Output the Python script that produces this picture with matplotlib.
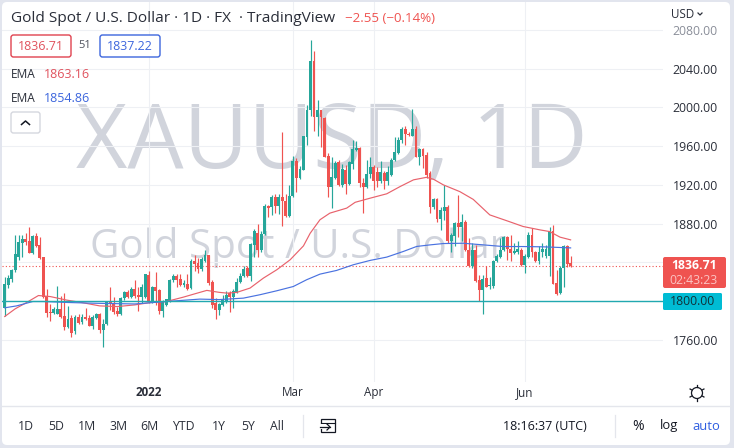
import matplotlib
matplotlib.use("Agg")
import matplotlib.pyplot as plt
from matplotlib.patches import FancyBboxPatch, Circle, Rectangle
import numpy as np

plt.rcParams['font.family'] = ['Open Sans', 'DejaVu Sans']

# candles, one per trading day
opens = [1793,1817,1823,1832,1846,1860,1864,1862,1850,1867,1858,1845,1805,1789,1788,1787,1792,1785,1773,1782,
         1769,1784,1778,1784,1782,1774,1782,1787,1770,1776,1800,1798,1790,1787,1803,1809,1804,1812,1806,1804,
         1804,1827,1800,1814,1811,1790,1796,1800,1822,1826,1823,1817,1818,1813,1841,1839,1833,1841,1848,1820,
         1798,1791,1796,1799,1808,1804,1808,1820,1826,1834,1826,1858,1870,1853,1869,1898,1897,1907,1898,1907,
         1903,1888,1908,1945,1927,1935,1969,1997,2048,1990,1997,1989,1950,1918,1927,1944,1920,1935,1921,1942,
         1956,1958,1922,1918,1931,1938,1933,1924,1932,1924,1930,1946,1953,1966,1978,1973,1971,1978,1949,1957,
         1951,1932,1897,1905,1885,1893,1897,1862,1867,1881,1877,1882,1853,1836,1853,1822,1811,1824,1816,1816,
         1841,1845,1853,1866,1854,1850,1851,1853,1837,1845,1868,1851,1841,1851,1847,1847,1872,1819,1808,1834,
         1857,1839]
highs = [1825,1827,1833,1868,1868,1868,1870,1876,1868,1870,1866,1846,1812,1797,1794,1816,1805,1808,1795,1786,
         1786,1787,1787,1793,1786,1786,1788,1788,1781,1800,1814,1804,1794,1804,1810,1811,1814,1822,1814,1818,
         1828,1831,1816,1830,1812,1801,1802,1823,1828,1828,1828,1822,1828,1843,1848,1844,1846,1853,1848,1822,
         1803,1798,1806,1810,1810,1812,1824,1829,1836,1836,1860,1874,1880,1872,1900,1899,1910,1911,1911,1975,
         1911,1920,1950,1948,1940,1971,2003,2070,2058,2008,1997,1990,1953,1949,1945,1946,1942,1941,1945,1966,
         1965,1959,1927,1946,1949,1941,1938,1945,1934,1939,1948,1969,1969,1980,1981,1975,1998,1981,1958,1958,
         1954,1934,1906,1906,1897,1920,1899,1870,1882,1910,1890,1884,1865,1860,1858,1827,1827,1836,1825,1842,
         1849,1865,1867,1867,1868,1860,1862,1855,1849,1871,1875,1852,1857,1860,1858,1876,1879,1832,1836,1858,
         1858,1847]
lows = [1785,1813,1820,1830,1842,1845,1858,1850,1849,1856,1843,1803,1783,1779,1787,1787,1782,1770,1772,1763,
        1766,1776,1776,1780,1774,1771,1781,1767,1753,1775,1791,1787,1785,1786,1801,1803,1803,1803,1790,1798,
        1803,1798,1798,1796,1787,1783,1795,1799,1820,1815,1816,1814,1811,1812,1831,1829,1831,1840,1817,1793,
        1781,1786,1795,1798,1789,1793,1808,1819,1825,1825,1821,1846,1845,1851,1868,1887,1889,1891,1890,1878,
        1887,1887,1907,1913,1926,1935,1961,1991,1976,1971,1959,1949,1907,1896,1926,1919,1918,1911,1920,1936,
        1955,1918,1891,1917,1927,1915,1918,1922,1916,1920,1929,1945,1952,1963,1961,1971,1970,1949,1941,1937,
        1927,1891,1895,1882,1873,1884,1860,1851,1857,1866,1862,1852,1835,1834,1820,1800,1787,1814,1812,1813,
        1840,1844,1852,1842,1841,1849,1849,1836,1829,1844,1845,1840,1838,1845,1844,1826,1818,1806,1807,1815,
        1835,1835]
closes = [1818,1824,1832,1849,1861,1864,1861,1850,1867,1857,1844,1804,1788,1788,1792,1792,1784,1773,1781,1767,
          1783,1777,1783,1781,1774,1783,1787,1770,1776,1800,1797,1789,1787,1803,1809,1804,1812,1805,1804,1814,
          1828,1800,1815,1810,1790,1800,1802,1822,1826,1822,1817,1819,1812,1841,1838,1833,1843,1848,1819,1796,
          1791,1797,1801,1806,1804,1810,1820,1826,1833,1826,1859,1872,1853,1869,1898,1896,1907,1898,1907,1903,
          1888,1909,1945,1927,1936,1970,1997,2048,1990,1997,1990,1949,1918,1928,1943,1920,1936,1921,1944,1957,
          1958,1922,1918,1931,1938,1924,1924,1933,1924,1933,1946,1954,1966,1978,1973,1972,1978,1949,1957,1950,
          1930,1897,1905,1885,1894,1897,1862,1868,1881,1877,1882,1853,1836,1853,1821,1811,1823,1815,1817,1841,
          1847,1853,1866,1854,1850,1852,1854,1837,1847,1868,1851,1841,1851,1854,1854,1872,1818,1807,1834,1857,
          1838,1836.71]

ema50_x = [0,3,6,9.6,13,17.6,22,27,32,37,41.3,46,50.8,54.6,57.5,61,63.2,66,69.8,73.6,77.4,81.2,85,86.9,89.7,92.5,
           97.3,99.7,104,108.7,112.5,116.3,120,122,124.8,129.5,133.3,138,142.8,147.5,152.3,155,158,161]
ema50_y = [1784,1792,1798,1805.7,1804.6,1801,1798.4,1795,1794.3,1796,1798.4,1799.5,1804,1808,1811,1809,1808.2,1808.9,
           1813.4,1823.7,1832.3,1842.6,1857,1870,1884,1890.8,1896,1902,1906.3,1910.8,1918.3,1925.2,1927.8,1925.8,
           1920,1913,1905,1889,1883,1877,1873.5,1871.8,1866,1863.2]
ema100_x = [0,3.4,8,11,18,27,37,46,55.5,61,67.9,72.6,77.4,82.1,85.9,89.7,94.4,99.2,104,108.7,113.4,117.2,121,124.8,
            130.5,136.2,141.9,147.5,153.2,161]
ema100_y = [1793,1795,1799.5,1799.5,1798.5,1797.6,1797,1799.5,1802,1801.5,1803,1806.5,1810.6,1815,1822,1827.8,1831.6,
            1837.5,1842,1845.4,1851.2,1856.4,1858,1859.4,1859.7,1858,1856.3,1856.3,1856,1854.9]

price_ticks = [1760,1800,1840,1880,1920,1960,2000,2040,2080]
# 1800 and 1840 sit under the coloured price labels
price_labels = ['1760.00','','','1880.00','1920.00','1960.00','2000.00','2040.00','2080.00']
month_ticks = [41,82,105,148]
month_labels = ['2022','Mar','Apr','Jun']
ranges = ['1D','5D','1M','3M','6M','YTD','1Y','5Y','All']
range_x = [26,56,87,118,149,183,219,248,277]

GREEN = '#26a69a'
RED = '#ef5350'
W, H = 734, 448

fig = plt.figure(figsize=(W/100, H/100), dpi=100, facecolor='#e2e5ee')


def rect_px(x0, y0, x1, y1):
    return [x0/W, 1-y1/H, (x1-x0)/W, (y1-y0)/H]


# panel and watermark go behind everything
bg = fig.add_axes([0, 0, 1, 1], zorder=0)
bg.set_xlim(0, W)
bg.set_ylim(H, 0)
bg.axis('off')
bg.add_patch(FancyBboxPatch((6, 6), 720, 435, boxstyle='round,pad=4,rounding_size=5', fc='white', ec='none'))
bg.text(332, 145, 'XAUUSD, 1D', fontsize=64, color='#d1d4dc', ha='center', va='center', family='Open Sans')
bg.text(298, 248, 'Gold Spot / U.S. Dollar', fontsize=29, color='#d1d4dc', ha='center', va='center', family='Open Sans')

# price chart
ax = fig.add_axes(rect_px(2, 2, 663, 382), zorder=1)
ax.patch.set_alpha(0)
per_day = 3.515
per_usd = 0.968
ax.set_xlim((2-4.7)/per_day, (663-4.7)/per_day)
ax.set_ylim(2080-(382-30)/per_usd, 2080+28/per_usd)
for s in ax.spines.values():
    s.set_visible(False)
ax.yaxis.tick_right()
ax.set_yticks(price_ticks)
ax.set_yticklabels(price_labels)
ax.set_xticks(month_ticks)
ax.set_xticklabels(month_labels)
ax.tick_params(axis='y', length=0, pad=7, labelsize=8.8, labelcolor='#2a2e39')
ax.tick_params(axis='x', length=0, pad=3, labelsize=8.4, labelcolor='#2a2e39')
ax.get_xticklabels()[0].set_fontweight('bold')
ax.get_yticklabels()[-1].set_color('#8a8e99')
ax.grid(True, color='#eef0f4', lw=0.8, zorder=0)
ax.set_axisbelow(True)

days = np.arange(len(closes))
o = np.array(opens)
c = np.array(closes)
colors = [GREEN if c[i] >= o[i] else RED for i in days]
ax.vlines(days, lows, highs, colors=colors, lw=0.85, zorder=3)
ax.bar(days, np.abs(c-o), bottom=np.minimum(o, c), width=0.82, color=colors, lw=0, zorder=3)

ax.plot(ema50_x, ema50_y, color='#e8626c', lw=0.85, zorder=4)
ax.plot(ema100_x, ema100_y, color='#4a72e0', lw=0.85, zorder=4)
ax.axhline(1800, color='#22a8b0', lw=1.0, zorder=4)
ax.axhline(closes[-1], color=RED, lw=0.8, ls=(0, (1, 2)), zorder=2)

# interface parts on top
ui = fig.add_axes([0, 0, 1, 1], zorder=2)
ui.patch.set_alpha(0)
ui.set_xlim(0, W)
ui.set_ylim(H, 0)
ui.axis('off')


def box(x0, y0, x1, y1, fc='white', ec='none', r=2.5, lw=1.0):
    ui.add_patch(FancyBboxPatch((x0+r, y0+r), x1-x0-2*r, y1-y0-2*r,
                                boxstyle='round,pad=%g,rounding_size=%g' % (r, r), fc=fc, ec=ec, lw=lw))


ui.text(11, 18.5, 'Gold Spot / U.S. Dollar · 1D · FX  · TradingView', fontsize=11.1, color='#2a2e39', va='center')
ui.text(345, 18.5, '−2.55 (−0.14%)', fontsize=9.6, color=RED, va='center')

box(11, 35, 71, 57, ec='#e0424f')
ui.text(41, 46.5, '1836.71', fontsize=9, color='#e0525d', ha='center', va='center')
ui.text(85, 46, '51', fontsize=8, color='#50535e', ha='center', va='center')
box(100, 35, 160, 57, ec='#3d66dd')
ui.text(130, 46.5, '1837.22', fontsize=9, color='#3d66dd', ha='center', va='center')
ui.text(11, 74.5, 'EMA', fontsize=8.6, color='#2a2e39', va='center')
ui.text(44, 74.5, '1863.16', fontsize=9, color='#e0525d', va='center')
ui.text(11, 98.5, 'EMA', fontsize=8.6, color='#2a2e39', va='center')
ui.text(44, 98.5, '1854.86', fontsize=9, color='#3d66dd', va='center')
box(11, 112, 40, 133, ec='#d5d7de')
ui.plot([21.5, 25.5, 29.5], [124.5, 121, 124.5], color='#131722', lw=1.1)

ui.text(683, 14, 'USD', fontsize=8.4, color='#2a2e39', ha='center', va='center')
ui.plot([698, 700, 702], [13, 15, 13], color='#2a2e39', lw=0.9)

# current price and line labels
box(663, 257, 726, 288, fc=RED, r=2)
ui.text(694, 265.5, '1836.71', fontsize=8.8, color='white', fontweight='bold', ha='center', va='center')
ui.text(694, 280, '02:43:23', fontsize=8.8, color='#fbc4c3', ha='center', va='center')
box(663, 293, 722, 310, fc='#00bcd4', r=1.5)
ui.text(692, 301.5, '1800.00', fontsize=8.8, color='#10323a', ha='center', va='center')

# sun icon in the axis corner
ui.add_patch(Circle((697, 393), 5.5, fc='none', ec='#131722', lw=0.9))
for ang in np.arange(0, 360, 60):
    dx, dy = np.cos(np.radians(ang+30)), np.sin(np.radians(ang+30))
    ui.plot([697+6*dx, 697+8*dx], [393+6*dy, 393+8*dy], color='#131722', lw=0.9)

# toolbar
ui.plot([2, 730], [406.5, 406.5], color='#e4e6ec', lw=1)
for lab, xp in zip(ranges, range_x):
    ui.text(xp, 426, lab, fontsize=8.8, color='#2a2e39', ha='center', va='center')
ui.plot([302.5, 302.5], [415, 437], color='#e4e6ec', lw=0.9)
ui.plot([614.5, 614.5], [415, 437], color='#e4e6ec', lw=0.9)
ui.add_patch(Rectangle((321, 419), 14, 13, fc='none', ec='#131722', lw=0.9))
ui.add_patch(Rectangle((318, 424), 8, 5, fc='white', ec='none', zorder=3))
ui.plot([320, 330], [427, 427], color='#131722', lw=0.9, zorder=4)
ui.plot([327, 330, 327], [424, 427, 430], color='#131722', lw=0.9, zorder=4)
ui.plot([321, 335], [423, 423], color='#131722', lw=0.8)
ui.text(503, 426, '18:16:37 (UTC)', fontsize=9, color='#131722', ha='left', va='center')
ui.text(638, 426, '%', fontsize=10, color='#131722', ha='center', va='center')
ui.text(669, 426, 'log', fontsize=9.4, color='#131722', ha='center', va='center')
ui.text(706, 426, 'auto', fontsize=9.4, color='#2f5ee0', ha='center', va='center')

fig.savefig('out.png', dpi=100, facecolor=fig.get_facecolor())
